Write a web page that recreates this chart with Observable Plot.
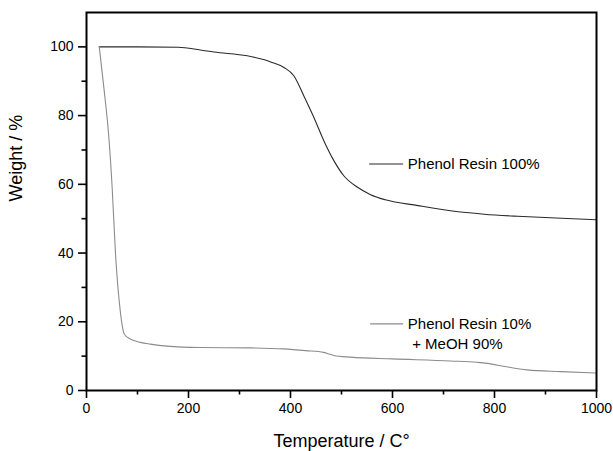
<!DOCTYPE html>
<html>
<head>
<meta charset="utf-8">
<script src="https://cdn.jsdelivr.net/npm/d3@7"></script>
<script src="https://cdn.jsdelivr.net/npm/@observablehq/plot@0.6"></script>
<style>
  html, body { margin: 0; padding: 0; background: white; }
</style>
</head>
<body>
<div id="chart"></div>
<script>
// Phenol Resin 100%
const temps100 = [25, 100, 180, 223, 250, 315, 347, 361, 387, 406.5, 426, 445.7, 465.3, 485, 504.5, 530.7, 557, 586, 650, 714, 780, 845, 920, 1000];
const weights100 = [100, 100, 99.9, 99.1, 98.5, 97.4, 96.3, 95.6, 94.0, 91.6, 85.8, 79.5, 72.7, 66.9, 62.5, 59.2, 57.0, 55.5, 53.8, 52.3, 51.3, 50.7, 50.2, 49.7];

// Phenol Resin 10% + MeOH 90%
const temps10 = [25, 34, 43.8, 50.3, 56.9, 64.7, 74.5, 86, 106, 125, 158, 223, 322, 387, 430, 465, 475, 485, 518, 600, 714, 766, 786, 820, 864, 930, 1000];
const weights10 = [100, 88.2, 73.7, 59.1, 39.7, 25.2, 16.3, 15.0, 14.0, 13.5, 12.9, 12.5, 12.4, 12.1, 11.6, 11.1, 10.6, 10.2, 9.7, 9.2, 8.6, 8.2, 7.9, 7.0, 6.0, 5.5, 5.1];

// Axis ticks
const xMajor = [0, 200, 400, 600, 800, 1000];
const xMinor = [100, 300, 500, 700, 900];
const yMajor = [0, 20, 40, 60, 80, 100];
const yMinor = [10, 30, 50, 70, 90];

// Legend annotation (data coordinates)
const legend1Line = [{x: 555, y: 65.9}, {x: 620, y: 65.9}];
const legend1Text = [{x: 630, y: 65.9, text: "Phenol Resin 100%"}];
const legend2Line = [{x: 557, y: 19.4}, {x: 620, y: 19.4}];
const legend2Text = [
  {x: 630, y: 19.4, text: "Phenol Resin 10%"},
  {x: 638.5, y: 13.6, text: "+ MeOH 90%"}
];

const colorDark = "#2a2a2a";
const colorGrey = "#8c8c8c";

const chart = Plot.plot({
  width: 613,
  height: 451,
  marginLeft: 86,
  marginRight: 17,
  marginTop: 12,
  marginBottom: 61,
  x: {domain: [0, 1000]},
  y: {domain: [0, 110]},
  style: {fontFamily: "'Liberation Sans', Arial, sans-serif", background: "white", color: "black"},
  marks: [
    Plot.axisX({ticks: xMajor, tickSize: 8, tickPadding: 5, fontSize: 14, tickFormat: d => String(d), label: null, strokeWidth: 1.6}),
    Plot.axisX({ticks: xMinor, tickSize: 4.5, tickFormat: () => "", label: null, strokeWidth: 1.6}),
    Plot.axisY({ticks: yMajor, tickSize: 8, tickPadding: 5, fontSize: 14, tickFormat: d => String(d), label: null, strokeWidth: 1.6}),
    Plot.axisY({ticks: yMinor, tickSize: 4.5, tickFormat: () => "", label: null, strokeWidth: 1.6}),
    Plot.line(weights100, {x: temps100, y: weights100, stroke: colorDark, strokeWidth: 1.1, curve: "monotone-x"}),
    Plot.line(weights10, {x: temps10, y: weights10, stroke: colorGrey, strokeWidth: 1.1, curve: "monotone-x"}),
    Plot.line(legend1Line, {x: "x", y: "y", stroke: colorDark, strokeWidth: 1.1}),
    Plot.text(legend1Text, {x: "x", y: "y", text: "text", textAnchor: "start", fontSize: 15, fill: "black"}),
    Plot.line(legend2Line, {x: "x", y: "y", stroke: colorGrey, strokeWidth: 1.1}),
    Plot.text(legend2Text, {x: "x", y: "y", text: "text", textAnchor: "start", fontSize: 15, fill: "black"}),
    Plot.frame({stroke: "black", strokeWidth: 2}),
    Plot.text(["Temperature / C°"], {frameAnchor: "bottom", dy: 56, fontSize: 18, fill: "black"}),
    Plot.text(["Weight / %"], {frameAnchor: "left", dx: -70, rotate: -90, fontSize: 18, fill: "black"})
  ]
});
document.getElementById("chart").appendChild(chart);
</script>
</body>
</html>
